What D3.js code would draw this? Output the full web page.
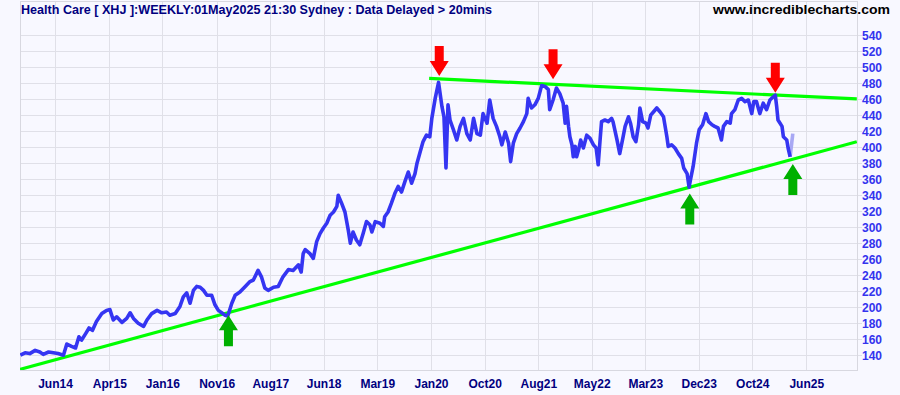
<!DOCTYPE html>
<html>
<head>
<meta charset="utf-8">
<title>Health Care XHJ Weekly</title>
<style>
  body { margin: 0; background: #f8f8ff; }
  svg { display: block; }
  text { font-family: "Liberation Sans", Arial, sans-serif; font-weight: bold; }
</style>
</head>
<body>
<svg id="chart"></svg>
<script src="https://d3js.org/d3.v7.min.js"></script>
<script>
// weekly closes, x as decimal year
const years = [
  2013.94, 2014.01, 2014.08, 2014.16, 2014.23, 2014.28, 2014.36, 2014.43, 2014.50, 2014.58,
  2014.63, 2014.70, 2014.76, 2014.81, 2014.85, 2014.91, 2014.96, 2015.01, 2015.07, 2015.15,
  2015.22, 2015.27, 2015.32, 2015.37, 2015.45, 2015.52, 2015.57, 2015.62, 2015.69, 2015.77,
  2015.82, 2015.89, 2015.97, 2016.04, 2016.11, 2016.16, 2016.24, 2016.31, 2016.36, 2016.41,
  2016.46, 2016.51, 2016.56, 2016.61, 2016.66, 2016.71, 2016.78, 2016.83, 2016.88, 2016.93,
  2016.98, 2017.02, 2017.08, 2017.13, 2017.20, 2017.28, 2017.35, 2017.40, 2017.47, 2017.52,
  2017.57, 2017.62, 2017.70, 2017.77, 2017.84, 2017.92, 2017.99, 2018.07, 2018.11, 2018.14,
  2018.17, 2018.24, 2018.29, 2018.34, 2018.39, 2018.44, 2018.49, 2018.54, 2018.59, 2018.64,
  2018.66, 2018.71, 2018.76, 2018.81, 2018.84, 2018.88, 2018.93, 2018.98, 2019.03, 2019.08,
  2019.13, 2019.16, 2019.21, 2019.28, 2019.33, 2019.35, 2019.40, 2019.45, 2019.50, 2019.55,
  2019.60, 2019.65, 2019.70, 2019.75, 2019.80, 2019.83, 2019.87, 2019.92, 2019.97, 2020.02,
  2020.05, 2020.10, 2020.15, 2020.20, 2020.23, 2020.26, 2020.29, 2020.32, 2020.37, 2020.42,
  2020.47, 2020.52, 2020.57, 2020.62, 2020.67, 2020.72, 2020.77, 2020.81, 2020.87, 2020.91,
  2020.96, 2021.01, 2021.06, 2021.09, 2021.14, 2021.19, 2021.22, 2021.26, 2021.31, 2021.36,
  2021.41, 2021.46, 2021.48, 2021.53, 2021.58, 2021.63, 2021.68, 2021.73, 2021.78, 2021.80,
  2021.85, 2021.90, 2021.95, 2022.00, 2022.03, 2022.05, 2022.08, 2022.10, 2022.13, 2022.15,
  2022.18, 2022.20, 2022.23, 2022.26, 2022.30, 2022.35, 2022.40, 2022.45, 2022.49, 2022.52,
  2022.55, 2022.57, 2022.62, 2022.67, 2022.72, 2022.74, 2022.80, 2022.84, 2022.89, 2022.92,
  2022.97, 2023.00, 2023.04, 2023.08, 2023.12, 2023.14, 2023.18, 2023.23, 2023.26, 2023.30,
  2023.34, 2023.39, 2023.44, 2023.49, 2023.54, 2023.56, 2023.61, 2023.66, 2023.71, 2023.76,
  2023.79, 2023.84, 2023.87, 2023.89, 2023.93, 2023.98, 2024.02, 2024.07, 2024.12, 2024.16,
  2024.21, 2024.25, 2024.30, 2024.35, 2024.38, 2024.43, 2024.48, 2024.50, 2024.55, 2024.60,
  2024.65, 2024.70, 2024.75, 2024.80, 2024.83, 2024.87, 2024.92, 2024.97, 2025.02, 2025.07,
  2025.12, 2025.15, 2025.17, 2025.19, 2025.25, 2025.27, 2025.32, 2025.34, 2025.37, 2025.41
];
const closes = [
  140, 143, 142, 146, 144, 141, 144, 143, 142, 140,
  154, 151, 149, 163, 159, 167, 174, 171, 182, 192,
  196, 197, 184, 188, 181, 186, 193, 186, 180, 176,
  184, 192, 196, 193, 194, 190, 192, 201, 213, 218,
  205, 221, 226, 225, 221, 215, 215, 203, 196, 193,
  190, 189, 205, 215, 219, 226, 232, 234, 246, 238,
  224, 221, 225, 226, 238, 247, 246, 253, 244, 267,
  272, 267, 261, 282, 292, 299, 305, 315, 319, 326,
  340, 330, 319, 296, 280, 294, 284, 278, 292, 307,
  303, 294, 307, 305, 301, 313, 319, 330, 342, 351,
  344, 357, 369, 355, 367, 380, 392, 407, 415, 413,
  436, 461, 481, 451, 438, 374, 453, 434, 422, 409,
  426, 436, 417, 409, 436, 417, 415, 442, 430, 459,
  436, 426, 413, 403, 419, 405, 382, 405, 417, 424,
  432, 442, 461, 449, 453, 461, 477, 476, 472, 447,
  459, 474, 467, 455, 430, 451, 426, 413, 403, 388,
  401, 388, 397, 409, 399, 415, 411, 403, 399, 378,
  411, 432, 434, 432, 436, 432, 409, 392, 413, 426,
  438, 430, 413, 407, 428, 449, 432, 430, 424, 440,
  444, 449, 444, 438, 413, 401, 403, 399, 392, 386,
  374, 367, 350, 359, 376, 405, 422, 428, 442, 432,
  428, 426, 424, 409, 426, 432, 430, 442, 447, 459,
  461, 457, 459, 442, 457, 457, 442, 455, 447, 459,
  463, 465, 451, 434, 426, 413, 409, 399, 388, 417
];

const yTicks = [140, 160, 180, 200, 220, 240, 260, 280, 300, 320, 340, 360, 380, 400, 420, 440, 460, 480, 500, 520, 540];
const xTickYears = [2014.455, 2015.261, 2016.048, 2016.856, 2017.651, 2018.444, 2019.240, 2020.038,
  2020.835, 2021.631, 2022.424, 2023.219, 2024.012, 2024.808, 2025.610];
const xTickLabels = ["Jun14", "Apr15", "Jan16", "Nov16", "Aug17", "Jun18", "Mar19", "Jan20",
  "Oct20", "Aug21", "May22", "Mar23", "Dec23", "Oct24", "Jun25"];

// trend lines: [year0, value0, year1, value1]
const resistance = [2020.01, 486, 2026.36, 460.3];
const support = [2013.935, 122.3, 2026.36, 406.8];

// arrow tips
const redArrowYears = [2020.16, 2021.85, 2025.15];
const redArrowValues = [489, 485, 468];
const greenArrowYears = [2017.03, 2023.88, 2025.41];
const greenArrowValues = [190, 342, 379];

const width = 900, height = 395;
const plot = { left: 20, right: 857, top: 1, bottom: 370 };

const svg = d3.select('#chart').attr('width', width).attr('height', height);
svg.append('rect').attr('width', width).attr('height', height).attr('fill', '#f8f8ff');

const x = d3.scaleLinear().domain([2013.935, 2026.363]).range([plot.left, plot.right]);
const y = d3.scaleLinear().domain([121.5, 582.75]).range([plot.bottom, plot.top]);

// grid
svg.append('g').selectAll('line').data(yTicks).join('line')
  .attr('x1', plot.left).attr('x2', plot.right + 5)
  .attr('y1', d => Math.round(y(d)) + 0.5).attr('y2', d => Math.round(y(d)) + 0.5)
  .attr('stroke', '#e0e0e8');
svg.append('g').selectAll('line').data(xTickYears).join('line')
  .attr('x1', d => Math.round(x(d)) + 0.5).attr('x2', d => Math.round(x(d)) + 0.5)
  .attr('y1', plot.top).attr('y2', plot.bottom)
  .attr('stroke', '#e0e0e8');
svg.append('rect')
  .attr('x', plot.left + 0.5).attr('y', plot.top + 0.5)
  .attr('width', plot.right - plot.left).attr('height', plot.bottom - plot.top)
  .attr('fill', 'none').attr('stroke', '#d8d8e0');

// axes
const yAxis = svg.append('g')
  .attr('transform', `translate(${plot.right},0)`)
  .call(d3.axisRight(y).tickValues(yTicks).tickSize(0).tickPadding(5));
yAxis.select('.domain').remove();
yAxis.selectAll('text').attr('fill', '#3333ee').style('font-size', '12px');

const xAxis = svg.append('g')
  .attr('transform', `translate(0,${plot.bottom})`)
  .call(d3.axisBottom(x).tickValues(xTickYears).tickFormat((d, i) => xTickLabels[i]).tickSize(0).tickPadding(9.5));
xAxis.select('.domain').remove();
xAxis.selectAll('text').attr('fill', '#000080').style('font-size', '12px');

// clip
svg.append('clipPath').attr('id', 'clip').append('rect')
  .attr('x', plot.left).attr('y', plot.top)
  .attr('width', plot.right - plot.left).attr('height', plot.bottom - plot.top);
const g = svg.append('g').attr('clip-path', 'url(#clip)');

// trend lines
[resistance, support].forEach(t => {
  g.append('line')
    .attr('x1', x(t[0])).attr('y1', y(t[1]))
    .attr('x2', x(t[2])).attr('y2', y(t[3]))
    .attr('stroke', '#00ff00').attr('stroke-width', 3.2);
});

// price line
const pts = years.map((yr, i) => [yr, closes[i]]);
const line = d3.line().x(d => x(d[0])).y(d => y(d[1]));
g.append('path').datum(pts.slice(-2))
  .attr('d', line).attr('fill', 'none')
  .attr('stroke', '#a8a8f4').attr('stroke-width', 3.6);
g.append('path').datum(pts.slice(0, -1))
  .attr('d', line).attr('fill', 'none')
  .attr('stroke', '#3535f2').attr('stroke-width', 3.6)
  .attr('stroke-linejoin', 'round');

// arrows
const downArrow = 'M0,0 L-9.5,-15 L-4.5,-15 L-4.5,-30 L4.5,-30 L4.5,-15 L9.5,-15 Z';
const upArrow = 'M0,0 L-9.5,15 L-4.5,15 L-4.5,31 L4.5,31 L4.5,15 L9.5,15 Z';
svg.append('g').selectAll('path').data(redArrowYears).join('path')
  .attr('transform', (d, i) => `translate(${x(d)},${y(redArrowValues[i])})`)
  .attr('d', downArrow).attr('fill', '#ff0000');
svg.append('g').selectAll('path').data(greenArrowYears).join('path')
  .attr('transform', (d, i) => `translate(${x(d)},${y(greenArrowValues[i])})`)
  .attr('d', upArrow).attr('fill', '#00b000');

// header texts
svg.append('text').attr('x', 21).attr('y', 13.5)
  .attr('fill', '#000080').style('font-size', '13px')
  .attr('textLength', 471).attr('lengthAdjust', 'spacingAndGlyphs')
  .text('Health Care [ XHJ ]:WEEKLY:01May2025 21:30 Sydney : Data Delayed > 20mins');
svg.append('text').attr('x', 713).attr('y', 14)
  .attr('fill', '#000000').style('font-size', '13px')
  .attr('textLength', 177).attr('lengthAdjust', 'spacingAndGlyphs')
  .text('www.incrediblecharts.com');
</script>
</body>
</html>
